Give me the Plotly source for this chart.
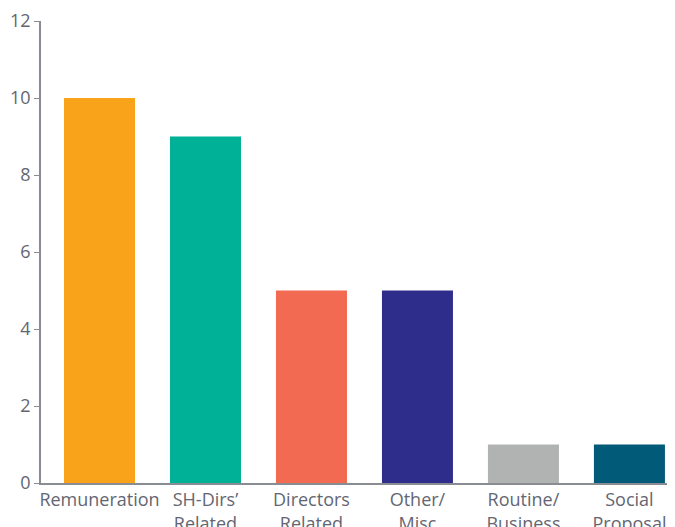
import plotly.graph_objects as go

categories = ["Remuneration", "SH-Dirs’<br>Related", "Directors<br>Related", "Other/<br>Misc", "Routine/<br>Business", "Social<br>Proposal"]
values = [10, 9, 5, 5, 1, 1]
colors = ["#F9A31A", "#00B097", "#F26A52", "#2E2D8C", "#B1B3B3", "#005A78"]

fig = go.Figure(go.Bar(x=categories, y=values, marker_color=colors, marker_line_width=0, width=0.67))

fig.update_layout(
    width=675, height=527,
    margin=dict(l=33, r=8, t=13, b=52),
    plot_bgcolor="white", paper_bgcolor="white",
    font=dict(family="Open Sans, sans-serif", size=18, color="#636672"),
    showlegend=False,
)
fig.update_xaxes(range=[-0.552, 5.43], showline=True, linecolor="#8A8C94", linewidth=1.5,
                 ticks="", showgrid=False, automargin=False, tickfont=dict(size=18))
fig.update_yaxes(range=[0, 12], dtick=2, showline=True, linecolor="#8A8C94", linewidth=1.5,
                 ticks="outside", ticklen=5, tickcolor="#8A8C94", showgrid=False,
                 zeroline=False, automargin=False, tickfont=dict(size=18))

fig.write_html("out.html")
